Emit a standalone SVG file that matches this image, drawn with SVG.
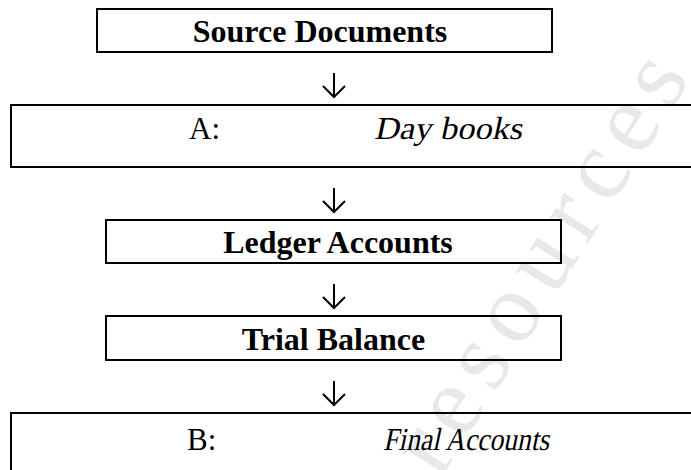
<svg xmlns="http://www.w3.org/2000/svg" width="691" height="470" viewBox="0 0 691 470">
<style>
.box{fill:none;stroke:#000;stroke-width:2}
.b{font-family:"Liberation Serif","Times New Roman",serif;font-weight:bold;font-size:32px;fill:#000;text-anchor:middle}
.r{font-family:"Liberation Serif","Times New Roman",serif;font-size:31px;fill:#000}
.i{font-size:32px}
.arr{fill:none;stroke:#000;stroke-width:2}
.wm{font-family:"Liberation Serif","Times New Roman",serif;font-size:100px;letter-spacing:12px;fill:#e8e8e8}
</style>
<g id="watermark"><text class="wm" transform="translate(440,480) rotate(-58)">resources</text></g>
<g id="source">
<rect class="box" x="97" y="9" width="455" height="43"/>
<text class="b" x="320" y="42">Source Documents</text>
</g>
<g id="A">
<rect class="box" x="11" y="105" width="700" height="62"/>
<text class="r" x="189" y="139">A:</text>
<text class="r i" transform="translate(374,139) skewX(-12)" textLength="148" lengthAdjust="spacingAndGlyphs">Day books</text>
</g>
<g id="ledger">
<rect class="box" x="106" y="220" width="455" height="43"/>
<text class="b" x="338" y="253">Ledger Accounts</text>
</g>
<g id="trial">
<rect class="box" x="106" y="316" width="455" height="44"/>
<text class="b" x="333.5" y="350">Trial Balance</text>
</g>
<g id="B">
<rect class="box" x="11" y="413" width="700" height="80"/>
<text class="r" x="187" y="450">B:</text>
<text class="r i" transform="translate(383,450) skewX(-12)" textLength="166" lengthAdjust="spacingAndGlyphs">Final Accounts</text>
</g>
<g id="connectors">
<path class="arr" d="M334 73V97M323 86L334 97L345 86"/>
<path class="arr" d="M334 188V212M323 201L334 212L345 201"/>
<path class="arr" d="M334 284V308M323 297L334 308L345 297"/>
<path class="arr" d="M334 381V405M323 394L334 405L345 394"/>
</g>
</svg>
